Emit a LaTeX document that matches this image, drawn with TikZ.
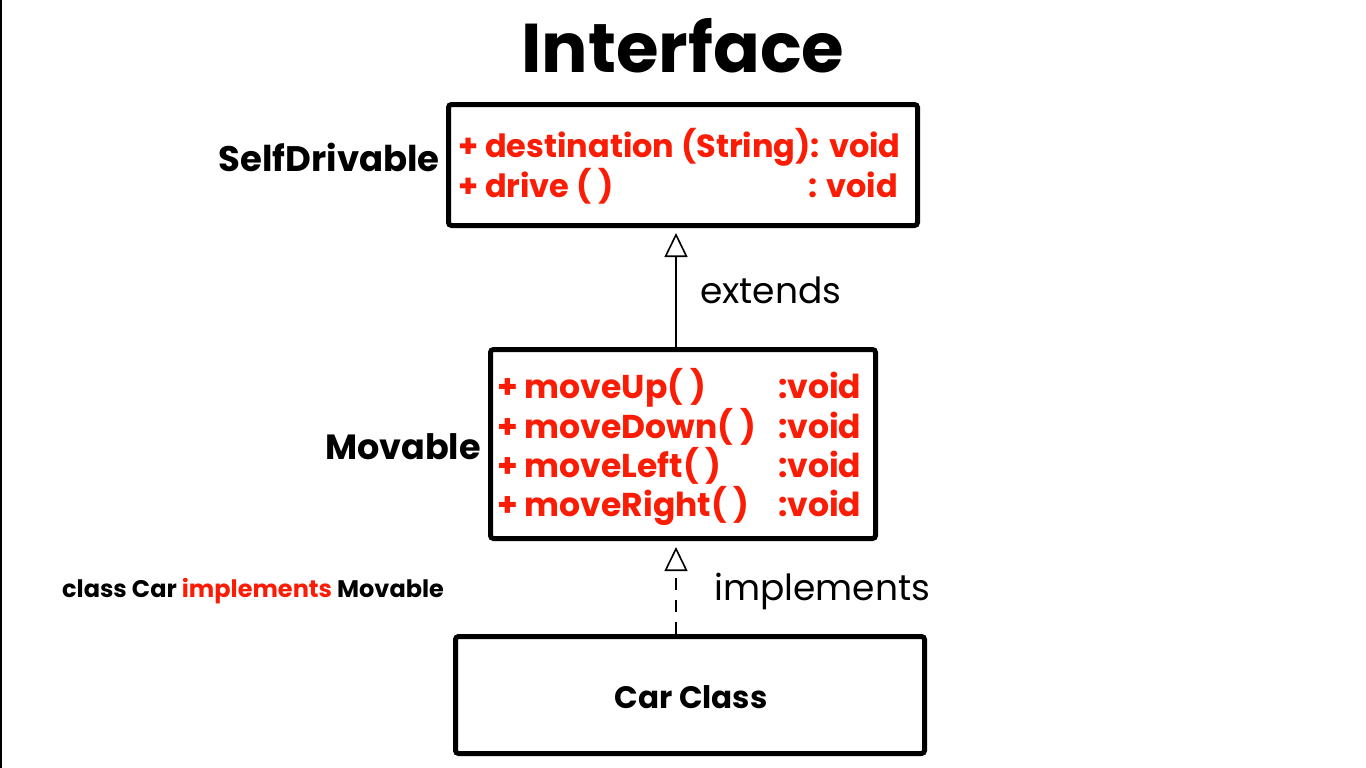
\documentclass[tikz,border=0pt]{standalone}
\usepackage{fontspec}
\setmainfont{Poppins}
\usetikzlibrary{arrows.meta}
\definecolor{umlred}{RGB}{250,28,5}
\tikzset{
  umlbox/.style={draw=black, line width=5pt, rounded corners=3pt, inner sep=0pt},
  redtxt/.style={text=umlred, font=\bfseries\fontsize{33}{38}\selectfont, inner sep=0pt},
  sdtxt/.style={redtxt, font=\bfseries\fontsize{32}{38}\selectfont},
  lbl/.style={text=black, font=\bfseries\fontsize{35}{40}\selectfont, inner sep=0pt},
  reltxt/.style={text=black, font=\fontsize{36}{40}\selectfont, inner sep=0pt},
  rel/.style={line width=2pt, -{Triangle[open, length=24pt, width=23pt, line width=1.6pt]}}
}
\begin{document}
\begin{tikzpicture}[x=1pt,y=-1pt]
\useasboundingbox (0,0) rectangle (1366,768);
\fill[white] (0,0) rectangle (1366,768);
\draw[line width=2pt] (1,0) -- (1,768);

\node[font=\bfseries\fontsize{69}{76}\selectfont, inner sep=0pt, anchor=base] (title) at (683,73) {Interface};

% boxes
\node[umlbox, minimum width=469pt, minimum height=121pt] (sd) at (683,165) {};
\node[umlbox, minimum width=385pt, minimum height=189pt] (mov) at (683,444) {};
\node[umlbox, minimum width=469pt, minimum height=117pt] (car) at (690,695) {};

% labels
\node[lbl, font=\bfseries\fontsize{35.5}{40}\selectfont, anchor=base east] (sdl) at (440,171) {SelfDrivable};
\node[lbl, anchor=base east] (movl) at (481,459) {Movable};
\node[lbl, font=\bfseries\fontsize{31}{38}\selectfont, anchor=base] (carl) at (691,708) {Car Class};

% SelfDrivable members
\node[sdtxt, anchor=base west] (sd1) at (458,157) {+ destination (String): void};
\node[sdtxt, anchor=base west] (sd2) at (458,197) {+ drive ( )};
\node[sdtxt, anchor=base east] (sd2r) at (898,197) {: void};

% Movable members
\node[redtxt, anchor=base west] (m1) at (497,398) {+ moveUp( )};
\node[redtxt, anchor=base west] (m2) at (497,438) {+ moveDown( )};
\node[redtxt, anchor=base west] (m3) at (497,477) {+ moveLeft( )};
\node[redtxt, anchor=base west] (m4) at (497,516) {+ moveRight( )};
\node[redtxt, anchor=base west] (m1r) at (778,398) {:void};
\node[redtxt, anchor=base west] (m2r) at (778,438) {:void};
\node[redtxt, anchor=base west] (m3r) at (778,477) {:void};
\node[redtxt, anchor=base west] (m4r) at (778,516) {:void};

% relations
\coordinate (extTip) at (676,233);
\coordinate (impTip) at (676,547);
\draw[rel] (mov.north -| extTip) -- (extTip);
\draw[rel, dash pattern=on 12pt off 10pt] (car.north -| impTip) -- (impTip);
\node[reltxt, anchor=base west] (ext) at (700,303) {extends};
\node[reltxt, anchor=base west] (imp) at (714,600) {implements};

% code note
\node[font=\bfseries\fontsize{24}{28}\selectfont, inner sep=0pt, anchor=base west] (note) at (62,597) {class Car \textcolor{umlred}{implements} Movable};
\end{tikzpicture}
\end{document}
